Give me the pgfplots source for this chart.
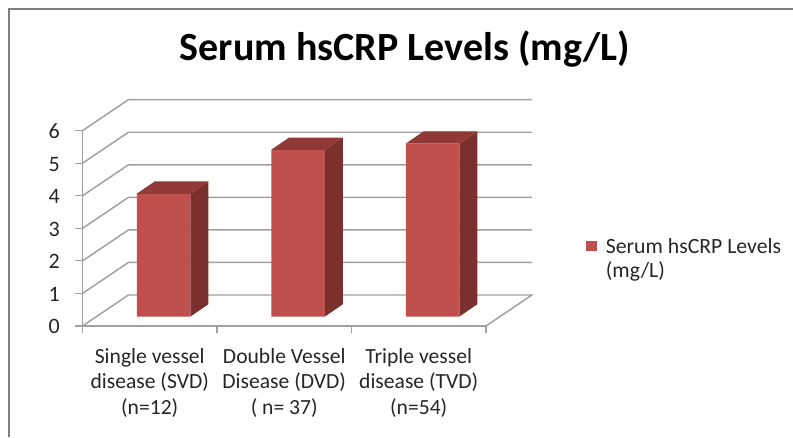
\documentclass[border=0pt]{standalone}
\usepackage{fontspec}
\setmainfont{Carlito}
\usepackage{pgfplots}
\pgfplotsset{compat=1.18}
\definecolor{barfront}{HTML}{C0504D}
\definecolor{barside}{HTML}{7B302E}
\definecolor{bartop}{HTML}{8F3A37}
\definecolor{gridg}{HTML}{A0A0A0}
\definecolor{txt}{HTML}{262626}
\begin{document}
\begin{tikzpicture}
\useasboundingbox (0pt,0pt) rectangle (594.75pt,327.75pt);
\draw[color=gray,line width=1.5pt] (6.4pt,0pt) -- (6.4pt,321pt) -- (594.75pt,321pt);
\begin{axis}[
  at={(61.875pt,83.25pt)},anchor=origin,
  scale only axis,width=302.6pt,height=146.5pt,
  xmin=0,xmax=3,ymin=0,ymax=6,clip=false,
  axis x line=bottom,axis y line=left,
  axis line style={-,draw=gridg,line width=1.1pt},
  every tick/.style={draw=gridg,line width=0.9pt},
  tick align=outside,
  major tick length=5.5pt,
  xtick={0.5,1.5,2.5},
  minor xtick={0,1,2,3},
  x tick style={draw=none},
  minor x tick style={draw=gridg,line width=0.9pt},
  minor tick length=5.5pt,
  ytick={0,1,2,3,4,5,6},
  xticklabels={{Single vessel\\disease (SVD)\\(n=12)},{Double Vessel\\Disease (DVD)\\( n= 37)},{Triple vessel\\disease (TVD)\\(n=54)}},
  xticklabel style={align=center,font=\fontsize{16.2}{18.9}\selectfont,text=txt,yshift=-8pt},
  yticklabel style={font=\fontsize{16.5}{18}\selectfont,text=txt,xshift=-8pt,yshift=-0.6pt},
  /pgf/number format/assume math mode=true,
  title={\textbf{Serum hsCRP Levels (mg/L)}},
  title style={at={(0.799,1.378)},anchor=center,font=\fontsize{30}{33}\selectfont,text=black},
]
\addplot[gridg,line width=1.1pt] coordinates {(0,0)(0.3415,0.952)(3.3415,0.952)(3,0)};
\addplot[gridg,line width=1.1pt] coordinates {(0,1)(0.3415,1.952)(3.3415,1.952)};
\addplot[gridg,line width=1.1pt] coordinates {(0,2)(0.3415,2.952)(3.3415,2.952)};
\addplot[gridg,line width=1.1pt] coordinates {(0,3)(0.3415,3.952)(3.3415,3.952)};
\addplot[gridg,line width=1.1pt] coordinates {(0,4)(0.3415,4.952)(3.3415,4.952)};
\addplot[gridg,line width=1.1pt] coordinates {(0,5)(0.3415,5.952)(3.3415,5.952)};
\addplot[gridg,line width=1.1pt] coordinates {(0,6)(0.3415,6.952)(3.3415,6.952)};
\end{axis}
\begin{axis}[
  at={(72.45pt,90.375pt)},anchor=origin,
  scale only axis,width=302.6pt,height=146.5pt,
  xmin=0,xmax=3,ymin=0,ymax=6,clip=false,
  hide axis,
  legend style={at={(axis cs:3.6385,2.49)},anchor=north west,draw=none,fill=none,
    font=\fontsize{16.3}{18.4}\selectfont,text=txt,cells={align=left},inner sep=0pt},
  legend cell align=left,
]
% side faces
\addplot[fill=barside,draw=none,forget plot] coordinates {(0.698,0)(0.8316,0.378)(0.8316,4.148)(0.698,3.77)} --cycle;
\addplot[fill=barside,draw=none,forget plot] coordinates {(1.698,0)(1.8316,0.378)(1.8316,5.498)(1.698,5.12)} --cycle;
\addplot[fill=barside,draw=none,forget plot] coordinates {(2.698,0)(2.8316,0.378)(2.8316,5.688)(2.698,5.31)} --cycle;
% top faces
\addplot[fill=bartop,draw=none,forget plot] coordinates {(0.298,3.77)(0.4316,4.148)(0.8316,4.148)(0.698,3.77)} --cycle;
\addplot[fill=bartop,draw=none,forget plot] coordinates {(1.298,5.12)(1.4316,5.498)(1.8316,5.498)(1.698,5.12)} --cycle;
\addplot[fill=bartop,draw=none,forget plot] coordinates {(2.298,5.31)(2.4316,5.688)(2.8316,5.688)(2.698,5.31)} --cycle;
% front faces
\addplot[ybar,bar width=40.2pt,fill=barfront,draw=none,
  legend image code/.code={\fill[barfront] (-12.7pt,5.9pt) rectangle (-4.5pt,13.7pt);\path (0pt,5.9pt) -- (0pt,13.7pt);}]
  coordinates {(0.498,3.77)(1.498,5.12)(2.498,5.31)};
\addlegendentry{Serum hsCRP Levels\\(mg/L)}
\end{axis}
\end{tikzpicture}
\end{document}
